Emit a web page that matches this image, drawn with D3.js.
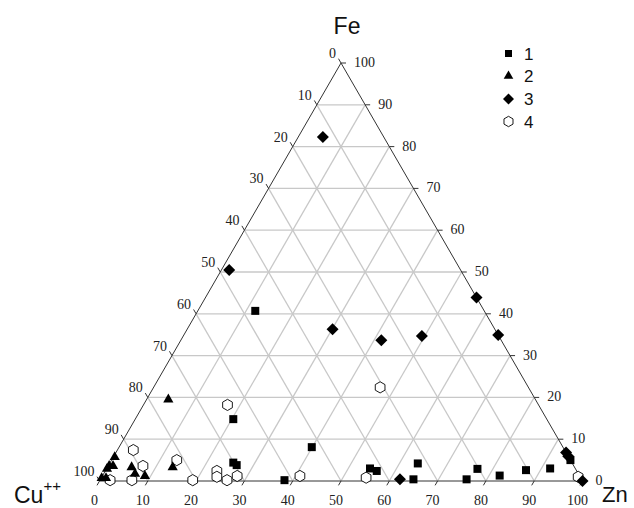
<!DOCTYPE html>
<html>
<head>
<meta charset="utf-8">
<script src="https://cdn.jsdelivr.net/npm/d3@7"></script>
<style>
  html, body { margin: 0; padding: 0; background: #fff; }
  svg { display: block; }
</style>
</head>
<body>
<svg id="chart" width="634" height="508"></svg>
<script>
// Ternary composition data: each point is [Cu, Fe, Zn] in percent
const series1 = [
  [47.4, 40.7, 11.9], [64.9, 14.8, 20.3], [70.1, 4.4, 25.5], [69.7, 3.8, 26.5],
  [61.6, 0.2, 38.2], [52.0, 8.1, 39.9], [42.5, 3.0, 54.5], [41.4, 2.4, 56.2],
  [34.8, 0.4, 64.8], [32.0, 4.2, 63.8], [23.8, 0.4, 75.8], [20.3, 2.9, 76.8],
  [16.5, 1.3, 82.2], [10.4, 2.6, 87.0], [5.2, 3.0, 91.8], [0.0, 5.0, 95.0]
];
const series2 = [
  [76.0, 19.5, 4.5], [94.0, 5.7, 0.3], [96.2, 3.6, 0.2], [95.4, 3.6, 1.0],
  [97.0, 2.9, 0.1], [99.2, 0.7, 0.1], [98.3, 0.7, 1.0], [91.7, 3.3, 5.0],
  [91.8, 1.7, 6.5], [90.0, 1.2, 8.8], [83.2, 3.3, 13.5]
];
const series3 = [
  [12.6, 82.3, 5.1], [47.9, 50.5, 1.6], [33.6, 36.3, 30.1], [24.8, 33.7, 41.5],
  [15.9, 34.7, 49.4], [0.0, 43.9, 56.1], [0.0, 34.9, 65.1], [37.6, 0.4, 62.0],
  [0.0, 6.8, 93.2], [0.0, 5.9, 94.1], [0.0, 0.0, 100.0]
];
const series4 = [
  [89.3, 7.4, 3.3], [89.2, 3.6, 7.2], [81.5, 5.0, 13.5], [97.7, 0.2, 2.1],
  [93.2, 0.2, 6.6], [80.6, 0.2, 19.2], [64.4, 18.2, 17.4], [74.5, 2.4, 23.1],
  [75.2, 1.0, 23.8], [73.5, 0.2, 26.3], [70.9, 1.2, 27.9], [57.9, 1.2, 40.9],
  [44.4, 0.8, 54.8], [30.7, 22.4, 46.9], [0.4, 1.0, 98.6]
];
const seriesNames = ["1", "2", "3", "4"];
const tickValues = [0, 10, 20, 30, 40, 50, 60, 70, 80, 90, 100];
const gridValues = [10, 20, 30, 40, 50, 60, 70, 80, 90];

const svg = d3.select("#chart");

// Horizontal position follows Zn + Fe/2, vertical follows Fe
const xs = d3.scaleLinear().domain([0, 100]).range([99.5, 582.5]);
const ys = d3.scaleLinear().domain([0, 100]).range([481, 63]);

function project(cu, fe, zn) {
  const t = cu + fe + zn;
  const f = fe / t * 100, z = zn / t * 100;
  return [xs(z + f / 2), ys(f)];
}

// Grid lines
const grid = svg.append("g").attr("stroke", "#c8c8c8").attr("stroke-width", 1.3);
gridValues.forEach(v => {
  // constant Fe
  let a = project(100 - v, v, 0), b = project(0, v, 100 - v);
  grid.append("line").attr("x1", a[0]).attr("y1", a[1]).attr("x2", b[0]).attr("y2", b[1]);
  // constant Zn
  a = project(100 - v, 0, v); b = project(0, 100 - v, v);
  grid.append("line").attr("x1", a[0]).attr("y1", a[1]).attr("x2", b[0]).attr("y2", b[1]);
  // constant Cu
  a = project(v, 0, 100 - v); b = project(v, 100 - v, 0);
  grid.append("line").attr("x1", a[0]).attr("y1", a[1]).attr("x2", b[0]).attr("y2", b[1]);
});

// Triangle outline
const pCu = project(100, 0, 0), pFe = project(0, 100, 0), pZn = project(0, 0, 100);
svg.append("path")
  .attr("d", d3.line()([pCu, pZn, pFe, pCu]))
  .attr("fill", "none").attr("stroke", "#333").attr("stroke-width", 1);

// Ticks and labels
const tickG = svg.append("g").attr("stroke", "#333").attr("stroke-width", 1);
const labelG = svg.append("g")
  .attr("font-family", "'Liberation Serif', 'Times New Roman', serif")
  .attr("font-size", 14).attr("fill", "#222");
const tl = 5;
const c60 = Math.cos(Math.PI / 3), s60 = Math.sin(Math.PI / 3);
tickValues.forEach(v => {
  // bottom: Zn
  let p = project(100 - v, 0, v);
  tickG.append("line").attr("x1", p[0]).attr("y1", p[1])
    .attr("x2", p[0] - tl * c60).attr("y2", p[1] + tl * s60);
  labelG.append("text").attr("x", p[0] - 5).attr("y", p[1] + 24)
    .attr("text-anchor", "middle").text(v);
  // right: Fe
  p = project(0, v, 100 - v);
  tickG.append("line").attr("x1", p[0]).attr("y1", p[1])
    .attr("x2", p[0] + tl).attr("y2", p[1]);
  labelG.append("text").attr("x", p[0] + 13).attr("y", p[1] + 4)
    .attr("text-anchor", "start").text(v);
  // left: Cu
  p = project(v, 100 - v, 0);
  tickG.append("line").attr("x1", p[0]).attr("y1", p[1])
    .attr("x2", p[0] - tl * c60).attr("y2", p[1] - tl * s60);
  labelG.append("text").attr("x", p[0] - 5).attr("y", p[1] - 5)
    .attr("text-anchor", "end").text(v);
});

// Axis titles
const titleFont = "'Liberation Sans', Arial, sans-serif";
svg.append("text").attr("x", 347).attr("y", 34).attr("text-anchor", "middle")
  .attr("font-family", titleFont).attr("font-size", 23).attr("fill", "#111").text("Fe");
const cuT = svg.append("text").attr("x", 14).attr("y", 503)
  .attr("font-family", titleFont).attr("font-size", 23).attr("fill", "#111");
cuT.append("tspan").text("Cu");
cuT.append("tspan").attr("font-size", 15).attr("dy", -12).text("++");
svg.append("text").attr("x", 602).attr("y", 502)
  .attr("font-family", titleFont).attr("font-size", 22).attr("fill", "#111").text("Zn");

// Marker shapes
function hexPath(r) {
  const pts = d3.range(6).map(i => {
    const a = Math.PI / 2 + i * Math.PI / 3;
    return [r * Math.cos(a), r * Math.sin(a)];
  });
  return d3.line()(pts) + "Z";
}
const markers = [
  { d: d3.symbol(d3.symbolSquare, 64)(), rot: 0, fill: "#000", stroke: "none" },
  { d: d3.symbol(d3.symbolTriangle, 45)(), rot: 0, fill: "#000", stroke: "none" },
  { d: d3.symbol(d3.symbolSquare, 72)(), rot: 45, fill: "#000", stroke: "none" },
  { d: hexPath(5.6), rot: 0, fill: "#fff", stroke: "#000" }
];
const allSeries = [series1, series2, series3, series4];

// Draw the open hexagons first so filled markers sit on top of them
[3, 0, 1, 2].forEach(si => {
  const m = markers[si];
  svg.append("g").selectAll("path").data(allSeries[si]).join("path")
    .attr("d", m.d)
    .attr("transform", d => {
      const p = project(d[0], d[1], d[2]);
      return `translate(${p[0]},${p[1]}) rotate(${m.rot})`;
    })
    .attr("fill", m.fill).attr("stroke", m.stroke).attr("stroke-width", 0.9);
});

// Legend
const legendMarkers = [
  { d: d3.symbol(d3.symbolSquare, 49)(), rot: 0 },
  { d: d3.symbol(d3.symbolTriangle, 40)(), rot: 0 },
  { d: d3.symbol(d3.symbolSquare, 60)(), rot: 45 },
  { d: hexPath(5.2), rot: 0 }
];
const legendY = [53.5, 76, 99, 121.5];
const leg = svg.append("g");
seriesNames.forEach((name, i) => {
  leg.append("path").attr("d", legendMarkers[i].d)
    .attr("transform", `translate(508.5,${legendY[i]}) rotate(${legendMarkers[i].rot})`)
    .attr("fill", markers[i].fill).attr("stroke", markers[i].stroke).attr("stroke-width", 0.9);
  leg.append("text").attr("x", 524).attr("y", legendY[i] + 6)
    .attr("font-family", titleFont).attr("font-size", 17).attr("fill", "#111").text(name);
});
</script>
</body>
</html>
